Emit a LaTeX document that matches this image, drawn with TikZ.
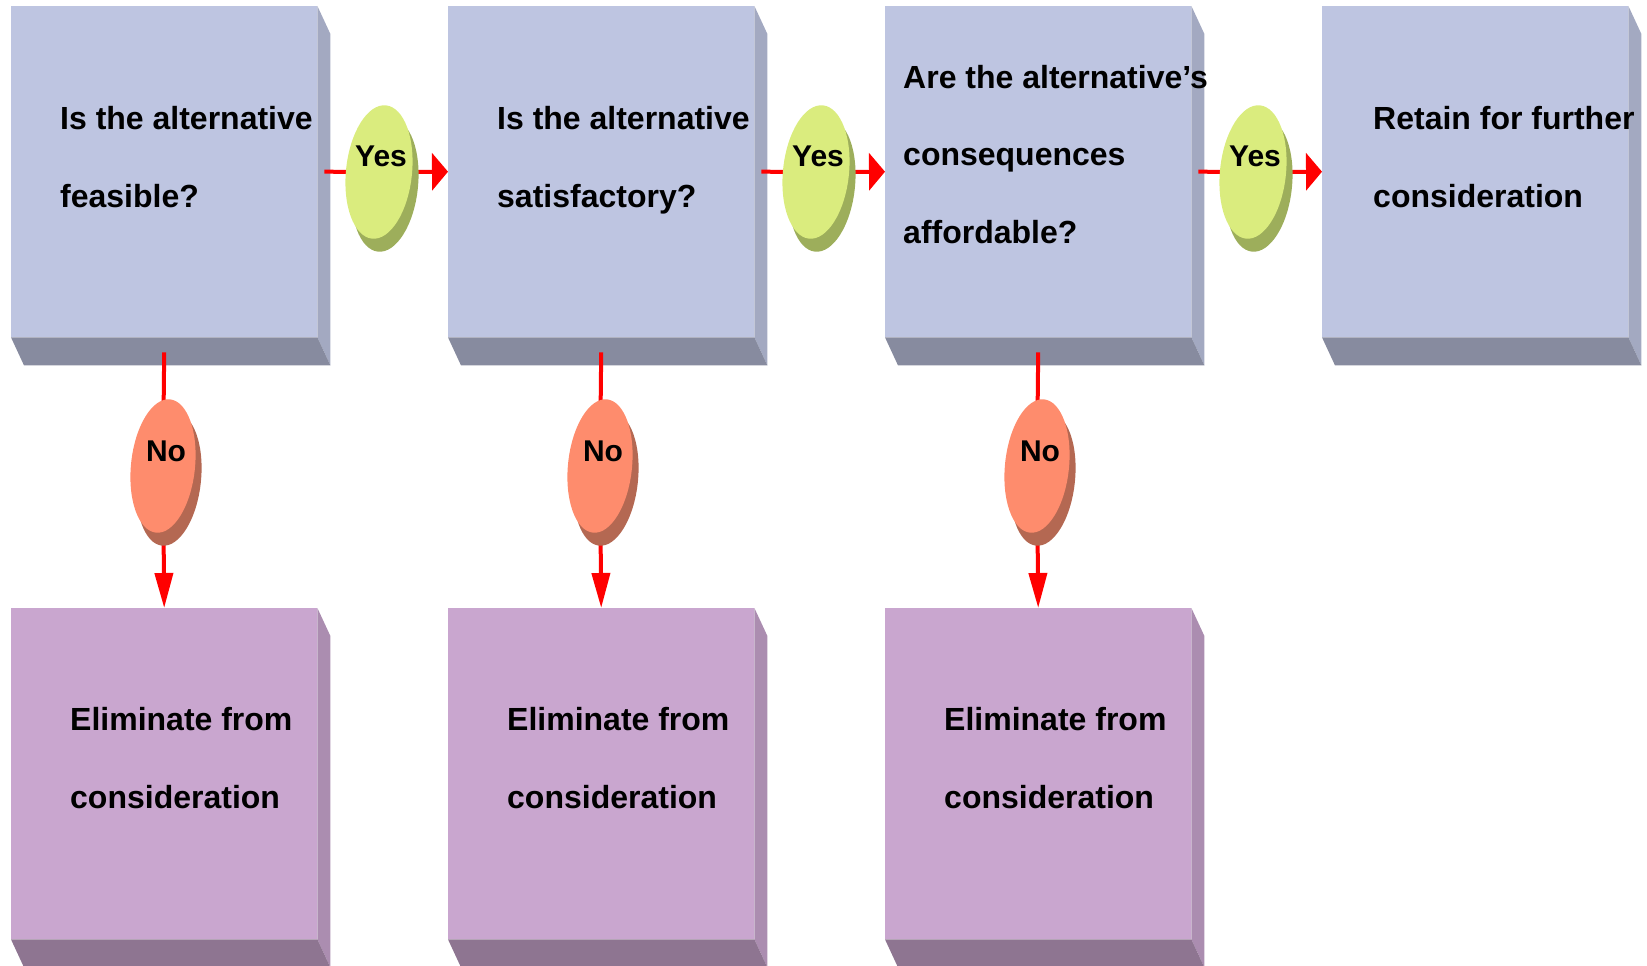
\documentclass[tikz,border=0pt]{standalone}
\usepackage{fontspec}
\setmainfont{Liberation Sans}
\usetikzlibrary{shapes.geometric,arrows.meta}
\definecolor{qfront}{HTML}{BEC5E1}
\definecolor{qside}{HTML}{A3A9C1}
\definecolor{qbottom}{HTML}{878B9F}
\definecolor{efront}{HTML}{C9A6CF}
\definecolor{eside}{HTML}{AB8DB0}
\definecolor{ebottom}{HTML}{8E7591}
\definecolor{yesfill}{HTML}{DAEC7E}
\definecolor{yesshade}{HTML}{9DAE5B}
\definecolor{nofill}{HTML}{FE8C6D}
\definecolor{noshade}{HTML}{B46852}
\definecolor{linkred}{HTML}{FF0000}
\pgfdeclarelayer{boxes}
\pgfdeclarelayer{links}
\pgfsetlayers{boxes,links,main}
\newcommand\cubefaces[3]{%
  \fill[#2] (#1.north east) -- ++(13,28) -- ([shift={(13,28)}]#1.south east) -- (#1.south east) -- cycle;
  \fill[#3] (#1.south west) -- (#1.south east) -- ([shift={(13,28)}]#1.south east) -- ([shift={(13,28)}]#1.south west) -- cycle;
}
\tikzset{
  cube/.style={rectangle, draw=none, inner sep=0pt, minimum width=306pt, minimum height=331pt, anchor=north west},
  qcube/.style={cube, fill=qfront},
  ecube/.style={cube, fill=efront},
  boxtext/.style={anchor=base west, align=left, inner sep=0pt, font=\fontsize{32pt}{78pt}\selectfont\bfseries},
  yesoval/.style={ellipse, draw=none, fill=yesfill, minimum width=66pt, minimum height=134pt, inner sep=0pt, rotate=-6},
  nooval/.style={ellipse, draw=none, fill=nofill, minimum width=64pt, minimum height=134pt, inner sep=0pt, rotate=-6},
  ovaltext/.style={anchor=base, inner sep=0pt, font=\fontsize{30pt}{36pt}\selectfont\bfseries},
  link/.style={draw=linkred, line width=4pt},
  harrow/.style={link, -{Triangle[length=16pt,width=37pt]}},
  varrow/.style={link, -{Triangle[length=35pt,width=18pt]}},
}
\begin{document}
\begin{tikzpicture}[x=1pt,y=-1pt]
\useasboundingbox (0,0) rectangle (1647,966);
\begin{pgfonlayer}{boxes}
  \node[qcube] (q1) at (11,6) {};
  \node[qcube] (q2) at (448,6) {};
  \node[qcube] (q3) at (885,6) {};
  \node[qcube] (q4) at (1322,6) {};
  \node[ecube] (e1) at (11,608) {};
  \node[ecube] (e2) at (448,608) {};
  \node[ecube] (e3) at (885,608) {};
  \cubefaces{q1}{qside}{qbottom}
  \cubefaces{q2}{qside}{qbottom}
  \cubefaces{q3}{qside}{qbottom}
  \cubefaces{q4}{qside}{qbottom}
  \cubefaces{e1}{eside}{ebottom}
  \cubefaces{e2}{eside}{ebottom}
  \cubefaces{e3}{eside}{ebottom}
\end{pgfonlayer}
% texts in boxes (anchor = baseline of last line)
\node[boxtext] (t1) at (60,207) {Is the alternative\\feasible?};
\node[boxtext] (t2) at (497,207) {Is the alternative\\satisfactory?};
\node[boxtext, font=\fontsize{32pt}{77.5pt}\selectfont\bfseries] (t3) at (903,243) {Are the alternative’s\\consequences\\affordable?};
\node[boxtext] (t4) at (1373,207) {Retain for further\\consideration};
\node[boxtext] (u1) at (70,808) {Eliminate from\\consideration};
\node[boxtext] (u2) at (507,808) {Eliminate from\\consideration};
\node[boxtext] (u3) at (944,808) {Eliminate from\\consideration};
% yes ovals
\foreach \i/\x in {1/379,2/816,3/1253}{
  \fill[yesshade, rotate around={-6:(\x+6,185)}] (\x+6,185) ellipse (33 and 67);
  \node[yesoval] (y\i) at (\x,172) {};
  \node[ovaltext] (yt\i) at (\x+2,166) {Yes};
}
% no ovals
\foreach \i/\x in {1/163,2/600,3/1037}{
  \fill[noshade, rotate around={-6:(\x+6,479)}] (\x+6,479) ellipse (32 and 67);
  \node[nooval] (n\i) at (\x,466) {};
  \node[ovaltext] (nt\i) at (\x+3,461) {No};
}
\begin{pgfonlayer}{links}
  \draw[link] ([xshift=7pt]q1.east) -- (y1.center);
  \draw[harrow] (y1.center) -- (q2.west);
  \draw[link] ([xshift=7pt]q2.east) -- (y2.center);
  \draw[harrow] (y2.center) -- (q3.west);
  \draw[link] ([xshift=7pt]q3.east) -- (y3.center);
  \draw[harrow] (y3.center) -- (q4.west);
  \draw[link] ([yshift=-15pt]q1.south) -- (n1.center);
  \draw[varrow] (n1.center) -- (e1.north);
  \draw[link] ([yshift=-15pt]q2.south) -- (n2.center);
  \draw[varrow] (n2.center) -- (e2.north);
  \draw[link] ([yshift=-15pt]q3.south) -- (n3.center);
  \draw[varrow] (n3.center) -- (e3.north);
\end{pgfonlayer}
\end{tikzpicture}
\end{document}
